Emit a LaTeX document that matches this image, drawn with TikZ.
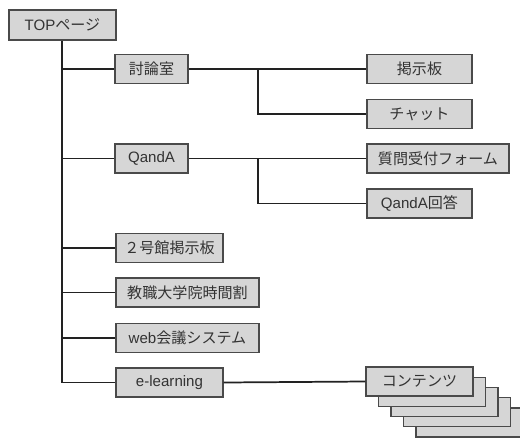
\documentclass[tikz,border=0pt]{standalone}
\usepackage{fontspec}
\setmainfont{Liberation Sans}
\newfontfamily\jp{Noto Sans CJK JP}
\definecolor{boxfill}{HTML}{D6D6D6}
\definecolor{boxline}{HTML}{4A4A4A}
\definecolor{txt}{HTML}{333333}
\definecolor{conn}{HTML}{222222}
\tikzset{
  pbox/.style={draw=boxline, fill=boxfill, line width=0.9pt, inner sep=0pt,
    minimum height=29*0.75pt, text=txt, font=\fontsize{11.3}{13}\selectfont, anchor=center},
  conline/.style={draw=conn, line width=1.3pt}
}
\begin{document}
\begin{tikzpicture}[x=0.75pt,y=-0.75pt]
\useasboundingbox (0,0) rectangle (520,439);
% connectors coordinates
\coordinate (trunkbot) at (62,382.5);
\coordinate (j1a) at (258,69);
\coordinate (j1b) at (258,114);
\coordinate (j2a) at (258,158.5);
\coordinate (j2b) at (258,203.5);
% boxes
\node[pbox, minimum width=107*0.75pt, minimum height=30*0.75pt] (top) at (62.5,25) {TOP{\jp ページ}};
\node[pbox, minimum width=73*0.75pt] (tr) at (151.5,69) {\jp 討論室};
\node[pbox, minimum width=105*0.75pt] (kb) at (419.5,69) {\jp 掲示板};
\node[pbox, minimum width=105*0.75pt] (chat) at (419.5,114) {\jp チャット};
\node[pbox, minimum width=73*0.75pt] (qa) at (151.5,158.5) {QandA};
\node[pbox, minimum width=142*0.75pt] (form) at (438,158.5) {\jp 質問受付フォーム};
\node[pbox, minimum width=105*0.75pt] (ans) at (419.5,203.5) {QandA{\jp 回答}};
\node[pbox, minimum width=107*0.75pt] (go) at (169.5,248) {\jp ２号館掲示板};
\node[pbox, minimum width=143*0.75pt] (kyo) at (187.5,292.5) {\jp 教職大学院時間割};
\node[pbox, minimum width=143*0.75pt] (web) at (187.5,338) {web{\jp 会議システム}};
\node[pbox, minimum width=107*0.75pt] (el) at (169.5,382.5) {e-learning};
% stacked contents
\node[pbox, minimum width=107*0.75pt] (c4) at (469.5,422.5) {};
\node[pbox, minimum width=107*0.75pt] (c3) at (457,412.2) {};
\node[pbox, minimum width=107*0.75pt] (c2) at (444.5,402) {};
\node[pbox, minimum width=107*0.75pt] (c1) at (432,391.7) {};
\node[pbox, minimum width=107*0.75pt] (cont) at (419.5,381.5) {\jp コンテンツ};
% connectors
\draw[conline] (top.south -| trunkbot) -- (trunkbot) -- (el.west);
\draw[conline] (tr.west -| trunkbot) -- (tr.west);
\draw[conline] (qa.west -| trunkbot) -- (qa.west);
\draw[conline] (go.west -| trunkbot) -- (go.west);
\draw[conline] (kyo.west -| trunkbot) -- (kyo.west);
\draw[conline] (web.west -| trunkbot) -- (web.west);
\draw[conline] (tr.east) -- (kb.west);
\draw[conline] (j1a) -- (j1b) -- (chat.west);
\draw[conline] (qa.east) -- (form.west);
\draw[conline] (j2a) -- (j2b) -- (ans.west);
\draw[conline] (el.east) -- (cont.west);
\end{tikzpicture}
\end{document}
